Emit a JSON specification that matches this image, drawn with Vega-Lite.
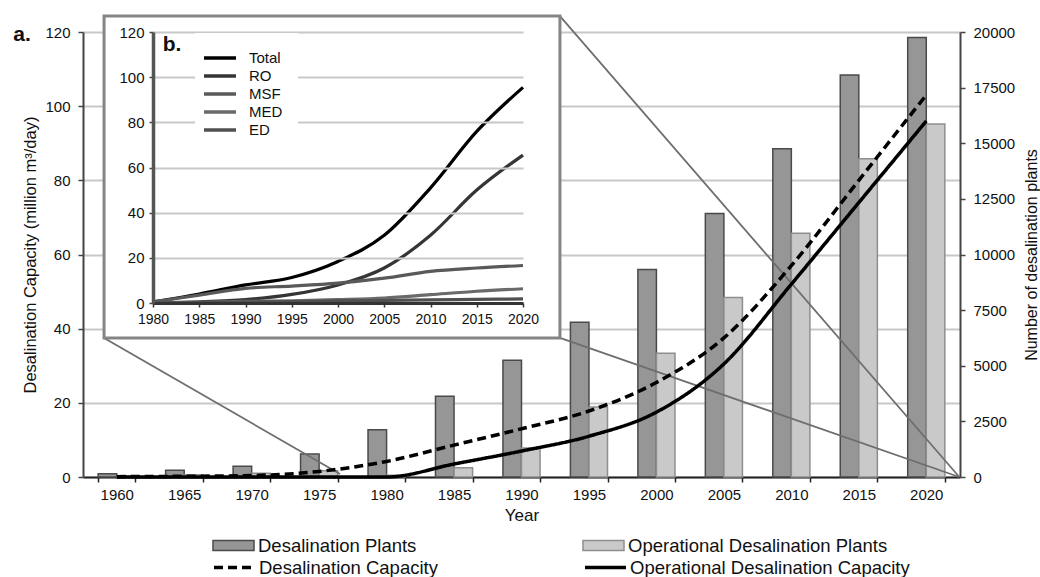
{
  "$schema": "https://vega.github.io/schema/vega-lite/v6.json",
  "width": 877,
  "height": 445,
  "autosize": "none",
  "padding": {"left": 83, "top": 32, "right": 80, "bottom": 100},
  "background": "white",
  "datasets": {
    "plants": [
      {"year": 1960, "series": "Desalination Plants", "plants": 150},
      {"year": 1960, "series": "Operational Desalination Plants", "plants": 30},
      {"year": 1965, "series": "Desalination Plants", "plants": 300},
      {"year": 1965, "series": "Operational Desalination Plants", "plants": 100},
      {"year": 1970, "series": "Desalination Plants", "plants": 480},
      {"year": 1970, "series": "Operational Desalination Plants", "plants": 170},
      {"year": 1975, "series": "Desalination Plants", "plants": 1030},
      {"year": 1975, "series": "Operational Desalination Plants", "plants": 280},
      {"year": 1980, "series": "Desalination Plants", "plants": 2120},
      {"year": 1980, "series": "Operational Desalination Plants", "plants": 80},
      {"year": 1985, "series": "Desalination Plants", "plants": 3630},
      {"year": 1985, "series": "Operational Desalination Plants", "plants": 420},
      {"year": 1990, "series": "Desalination Plants", "plants": 5250},
      {"year": 1990, "series": "Operational Desalination Plants", "plants": 1300},
      {"year": 1995, "series": "Desalination Plants", "plants": 6950},
      {"year": 1995, "series": "Operational Desalination Plants", "plants": 3150},
      {"year": 2000, "series": "Desalination Plants", "plants": 9330},
      {"year": 2000, "series": "Operational Desalination Plants", "plants": 5560},
      {"year": 2005, "series": "Desalination Plants", "plants": 11840},
      {"year": 2005, "series": "Operational Desalination Plants", "plants": 8070},
      {"year": 2010, "series": "Desalination Plants", "plants": 14750},
      {"year": 2010, "series": "Operational Desalination Plants", "plants": 10950},
      {"year": 2015, "series": "Desalination Plants", "plants": 18070},
      {"year": 2015, "series": "Operational Desalination Plants", "plants": 14300},
      {"year": 2020, "series": "Desalination Plants", "plants": 19750},
      {"year": 2020, "series": "Operational Desalination Plants", "plants": 15870}
    ],
    "capacity": [
      {"year": 1960, "series": "Desalination Capacity", "capacity": 0.1},
      {"year": 1965, "series": "Desalination Capacity", "capacity": 0.2},
      {"year": 1970, "series": "Desalination Capacity", "capacity": 0.4},
      {"year": 1975, "series": "Desalination Capacity", "capacity": 1.5},
      {"year": 1980, "series": "Desalination Capacity", "capacity": 4.2},
      {"year": 1985, "series": "Desalination Capacity", "capacity": 8.6},
      {"year": 1990, "series": "Desalination Capacity", "capacity": 13},
      {"year": 1995, "series": "Desalination Capacity", "capacity": 17.8},
      {"year": 2000, "series": "Desalination Capacity", "capacity": 25.5},
      {"year": 2005, "series": "Desalination Capacity", "capacity": 37.5},
      {"year": 2010, "series": "Desalination Capacity", "capacity": 57},
      {"year": 2015, "series": "Desalination Capacity", "capacity": 80},
      {"year": 2020, "series": "Desalination Capacity", "capacity": 103},
      {"year": 1960, "series": "Operational Desalination Capacity", "capacity": 0},
      {"year": 1965, "series": "Operational Desalination Capacity", "capacity": 0},
      {"year": 1970, "series": "Operational Desalination Capacity", "capacity": 0},
      {"year": 1975, "series": "Operational Desalination Capacity", "capacity": 0},
      {"year": 1980, "series": "Operational Desalination Capacity", "capacity": 0},
      {"year": 1985, "series": "Operational Desalination Capacity", "capacity": 3.5},
      {"year": 1990, "series": "Operational Desalination Capacity", "capacity": 7},
      {"year": 1995, "series": "Operational Desalination Capacity", "capacity": 11},
      {"year": 2000, "series": "Operational Desalination Capacity", "capacity": 17.5},
      {"year": 2005, "series": "Operational Desalination Capacity", "capacity": 30.5},
      {"year": 2010, "series": "Operational Desalination Capacity", "capacity": 52},
      {"year": 2015, "series": "Operational Desalination Capacity", "capacity": 74},
      {"year": 2020, "series": "Operational Desalination Capacity", "capacity": 96}
    ],
    "inset": [
      {"year": 1980, "type": "Total", "value": 0.5},
      {"year": 1985, "type": "Total", "value": 4},
      {"year": 1990, "type": "Total", "value": 8},
      {"year": 1995, "type": "Total", "value": 11.3},
      {"year": 2000, "type": "Total", "value": 18.4},
      {"year": 2005, "type": "Total", "value": 30},
      {"year": 2010, "type": "Total", "value": 51},
      {"year": 2015, "type": "Total", "value": 76},
      {"year": 2020, "type": "Total", "value": 95.5},
      {"year": 1980, "type": "RO", "value": 0},
      {"year": 1985, "type": "RO", "value": 0.5},
      {"year": 1990, "type": "RO", "value": 1.5},
      {"year": 1995, "type": "RO", "value": 3.8},
      {"year": 2000, "type": "RO", "value": 8},
      {"year": 2005, "type": "RO", "value": 15.5},
      {"year": 2010, "type": "RO", "value": 30},
      {"year": 2015, "type": "RO", "value": 50},
      {"year": 2020, "type": "RO", "value": 65.5},
      {"year": 1980, "type": "MSF", "value": 0.5},
      {"year": 1985, "type": "MSF", "value": 3.5},
      {"year": 1990, "type": "MSF", "value": 6.5},
      {"year": 1995, "type": "MSF", "value": 7.5},
      {"year": 2000, "type": "MSF", "value": 8.8},
      {"year": 2005, "type": "MSF", "value": 11},
      {"year": 2010, "type": "MSF", "value": 14},
      {"year": 2015, "type": "MSF", "value": 15.5},
      {"year": 2020, "type": "MSF", "value": 16.6},
      {"year": 1980, "type": "MED", "value": 0},
      {"year": 1985, "type": "MED", "value": 0.3},
      {"year": 1990, "type": "MED", "value": 0.7},
      {"year": 1995, "type": "MED", "value": 1},
      {"year": 2000, "type": "MED", "value": 1.5},
      {"year": 2005, "type": "MED", "value": 2.2},
      {"year": 2010, "type": "MED", "value": 3.7},
      {"year": 2015, "type": "MED", "value": 5.2},
      {"year": 2020, "type": "MED", "value": 6.3},
      {"year": 1980, "type": "ED", "value": 0},
      {"year": 1985, "type": "ED", "value": 0.2},
      {"year": 1990, "type": "ED", "value": 0.4},
      {"year": 1995, "type": "ED", "value": 0.6},
      {"year": 2000, "type": "ED", "value": 0.9},
      {"year": 2005, "type": "ED", "value": 1.1},
      {"year": 2010, "type": "ED", "value": 1.4},
      {"year": 2015, "type": "ED", "value": 1.6},
      {"year": 2020, "type": "ED", "value": 1.8}
    ],
    "connectors": [
      {"x0": 1959.06, "y0": 37.5, "x1": 1976.55, "y1": 0.8},
      {"x0": 1992.85, "y0": 124.3, "x1": 2022.45, "y1": 0},
      {"x0": 1992.85, "y0": 37.5, "x1": 2022.45, "y1": 0}
    ],
    "insetBox": [
      {"x0": 1959.06, "y0": 37.5, "x1": 1992.85, "y1": 124.3}
    ]
  },
  "layer": [
    {
      "data": {"name": "plants"},
      "mark": {"type": "bar", "strokeWidth": 1.5},
      "encoding": {
        "x": {
          "field": "year", "type": "ordinal",
          "scale": {"type": "band", "paddingInner": 0.45, "paddingOuter": 0.225},
          "axis": {
            "orient": "bottom", "title": "Year", "tickBand": "extent", "labelAngle": 0,
            "labelFontSize": 15, "titleFontSize": 17, "tickSize": 5, "labelPadding": 5,
            "titlePadding": 5, "domainColor": "#222", "domainWidth": 2, "tickColor": "#222",
            "tickWidth": 1.5, "grid": false
          }
        },
        "xOffset": {
          "field": "series", "type": "nominal",
          "sort": ["Desalination Plants", "Operational Desalination Plants"],
          "scale": {"paddingInner": 0, "paddingOuter": 0}
        },
        "y": {
          "field": "plants", "type": "quantitative",
          "scale": {"domain": [0, 20000], "nice": false},
          "axis": {
            "orient": "right", "title": "Number of desalination plants",
            "values": [0, 2500, 5000, 7500, 10000, 12500, 15000, 17500, 20000],
            "format": "d", "grid": false, "labelFontSize": 15, "labelPadding": 8, "tickSize": 5,
            "domainColor": "#444", "domainWidth": 2, "tickColor": "#444", "tickWidth": 1.5,
            "titleFontSize": 16, "titleAngle": -90, "titleBaseline": "top", "titlePadding": 9
          }
        },
        "fill": {
          "field": "series", "type": "nominal",
          "scale": {"domain": ["Desalination Plants", "Operational Desalination Plants"], "range": ["#969696", "#c9c9c9"]},
          "legend": {
            "orient": "none", "legendX": 129, "legendY": 492, "title": null, "columns": 2,
            "columnPadding": 163, "symbolType": "M-1,-0.244H1V0.244H-1Z", "symbolSize": 1681,
            "symbolStrokeColor": "#555", "symbolStrokeWidth": 1.5, "labelFontSize": 18.5,
            "labelOffset": 3, "labelLimit": 0
          }
        },
        "stroke": {
          "field": "series", "type": "nominal",
          "scale": {"domain": ["Desalination Plants", "Operational Desalination Plants"], "range": ["#4a4a4a", "#8e8e8e"]},
          "legend": null
        }
      }
    },
    {
      "layer": [
        {
          "data": {"name": "connectors"},
          "mark": {"type": "rule", "color": "#6e6e6e", "strokeWidth": 1.8},
          "encoding": {
            "x": {"field": "x0", "type": "quantitative", "scale": {"domain": [1957.5, 2022.5], "nice": false, "zero": false}, "axis": null},
            "y": {"field": "y0", "type": "quantitative", "scale": {"domain": [0, 120], "nice": false}, "axis": null},
            "x2": {"field": "x1"},
            "y2": {"field": "y1"}
          }
        },
        {
          "data": {"name": "insetBox"},
          "mark": {"type": "rect", "fill": "white", "stroke": "#858585", "strokeWidth": 3},
          "encoding": {
            "x": {"field": "x0", "type": "quantitative", "scale": {"domain": [1957.5, 2022.5], "nice": false, "zero": false}, "axis": null},
            "y": {"field": "y0", "type": "quantitative", "scale": {"domain": [0, 120], "nice": false}, "axis": null},
            "x2": {"field": "x1"},
            "y2": {"field": "y1"}
          }
        },
        {
          "data": {"values": [{"t": "a."}]},
          "mark": {"type": "text", "fontSize": 21, "fontWeight": "bold", "align": "center", "baseline": "middle", "color": "#111"},
          "encoding": {
            "x": {"datum": 1952.98, "type": "quantitative"},
            "y": {"datum": 119.2, "type": "quantitative"},
            "text": {"field": "t"}
          }
        }
      ]
    },
    {
      "data": {"name": "capacity"},
      "mark": {"type": "line", "interpolate": "monotone", "strokeWidth": 3.5, "color": "#000"},
      "encoding": {
        "x": {
          "field": "year", "type": "ordinal",
          "scale": {"type": "band", "paddingInner": 0.45, "paddingOuter": 0.225},
          "axis": null
        },
        "y": {
          "field": "capacity", "type": "quantitative",
          "scale": {"domain": [0, 120], "nice": false},
          "axis": {
            "orient": "left", "title": "Desalination Capacity (million m³/day)",
            "values": [0, 20, 40, 60, 80, 100, 120], "grid": true, "gridColor": "#c8c8c8", "gridWidth": 2,
            "labelFontSize": 15, "labelPadding": 8, "tickSize": 5, "domainColor": "#444", "domainWidth": 2,
            "tickColor": "#444", "tickWidth": 1.5, "titleFontSize": 16.5, "titlePadding": 6
          }
        },
        "strokeDash": {
          "field": "series", "type": "nominal",
          "scale": {"domain": ["Desalination Capacity", "Operational Desalination Capacity"], "range": [[9, 5], [1, 0]]},
          "legend": {
            "orient": "none", "legendX": 129, "legendY": 513, "title": null, "columns": 2,
            "columnPadding": 140, "symbolType": "stroke", "symbolSize": 1681, "symbolStrokeWidth": 3.5,
            "symbolStrokeColor": "#000", "labelFontSize": 18.5, "labelOffset": 2, "labelLimit": 0
          }
        }
      }
    },
    {
      "layer": [
        {
          "data": {"name": "inset"},
          "mark": {"type": "line", "interpolate": "monotone", "strokeWidth": 3.2},
          "encoding": {
            "x": {
              "field": "year", "type": "quantitative",
              "scale": {"domain": [1980, 2020], "range": [70, 440], "nice": false, "zero": false},
              "axis": {
                "orient": "bottom", "offset": -174, "values": [1980, 1985, 1990, 1995, 2000, 2005, 2010, 2015, 2020],
                "format": "d", "title": null, "grid": false, "zindex": 1, "labelFontSize": 14, "labelPadding": 5,
                "labelOverlap": false, "labelFlush": false,
                "tickSize": 4, "domainColor": "#333", "domainWidth": 3, "tickColor": "#333", "tickWidth": 1.5
              }
            },
            "y": {
              "field": "value", "type": "quantitative",
              "scale": {"domain": [0, 120], "range": [271, 0], "nice": false},
              "axis": {
                "orient": "left", "offset": -70, "values": [0, 20, 40, 60, 80, 100, 120], "title": null,
                "grid": true, "gridColor": "#c8c8c8", "gridWidth": 2, "zindex": 1, "labelFontSize": 15,
                "labelPadding": 5, "tickSize": 4, "domainColor": "#555", "domainWidth": 3.5, "tickColor": "#444",
                "tickWidth": 1.5, "labelOverlap": false, "labelFlush": false
              }
            },
            "color": {
              "field": "type", "type": "nominal",
              "scale": {"domain": ["Total", "RO", "MSF", "MED", "ED"], "range": ["#000000", "#353535", "#595959", "#6a6a6a", "#505050"]},
              "legend": {
                "orient": "none", "legendX": 112, "legendY": 1, "title": null, "symbolType": "M-2,0L2,0",
                "symbolSize": 256, "symbolStrokeWidth": 3.5, "labelFontSize": 15, "labelOffset": 19,
                "rowPadding": 0, "padding": 15, "fillColor": "white", "zindex": 2, "labelLimit": 0
              }
            }
          }
        },
        {
          "data": {"values": [{"t": "b."}]},
          "mark": {"type": "text", "fontSize": 21, "fontWeight": "bold", "align": "center", "baseline": "middle", "color": "#111"},
          "encoding": {
            "x": {"datum": 1982.05, "type": "quantitative"},
            "y": {"datum": 114.3, "type": "quantitative"},
            "text": {"field": "t"}
          }
        }
      ]
    }
  ],
  "resolve": {"scale": {"x": "independent", "y": "independent"}},
  "config": {
    "font": "Liberation Sans",
    "view": {"stroke": null},
    "axis": {"labelColor": "#111", "titleColor": "#111", "titleFontWeight": "normal", "labelFont": "Liberation Sans", "titleFont": "Liberation Sans"},
    "legend": {"labelColor": "#111", "labelFont": "Liberation Sans"},
    "text": {"font": "Liberation Sans"}
  }
}
